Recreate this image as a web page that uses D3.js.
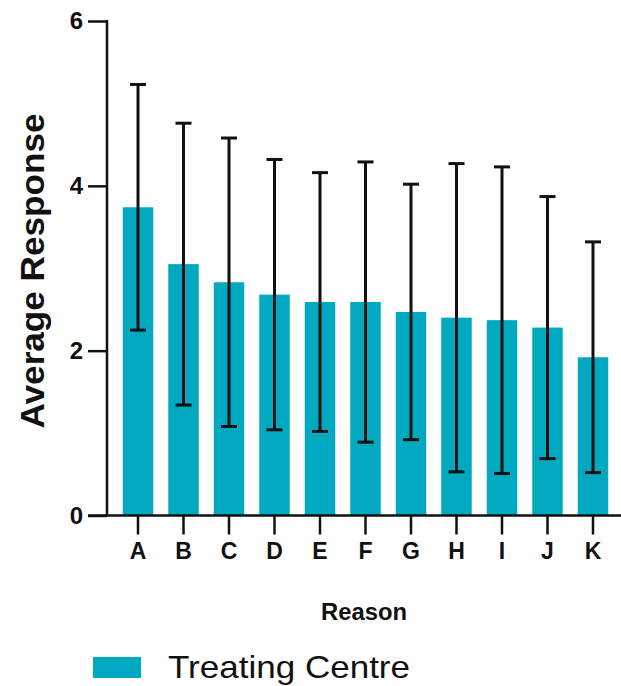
<!DOCTYPE html>
<html>
<head>
<meta charset="utf-8">
<script src="https://cdn.jsdelivr.net/npm/d3@7"></script>
<style>
  html, body { margin: 0; padding: 0; background: #fff; }
  svg { display: block; font-family: "Liberation Sans", Arial, sans-serif; }
</style>
</head>
<body>
<svg id="chart" width="621" height="686"></svg>
<script>
// ---- Data ----
const categories = ["A", "B", "C", "D", "E", "F", "G", "H", "I", "J", "K"];
const means      = [3.74, 3.05, 2.83, 2.68, 2.59, 2.59, 2.47, 2.40, 2.37, 2.28, 1.92];
const sds        = [1.49, 1.71, 1.75, 1.64, 1.57, 1.70, 1.55, 1.87, 1.86, 1.59, 1.40];
const yTicks     = [0, 2, 4, 6];
const seriesName = "Treating Centre";
const yTitle     = "Average Response";
const xTitle     = "Reason";

const barColor = "#00A9C0";
const ink = "#111";

const svg = d3.select("#chart");

const y = d3.scaleLinear().domain([0, 6]).range([515.5, 21]);
const x = d3.scaleBand().domain(categories)
  .range([115.25, 615.75]).paddingInner(0.33).paddingOuter(0.165);

const data = categories.map((c, i) => ({ c, m: means[i], sd: sds[i] }));

// Bars
svg.append("g").selectAll("rect").data(data).join("rect")
  .attr("x", d => x(d.c))
  .attr("y", d => y(d.m))
  .attr("width", x.bandwidth())
  .attr("height", d => y(0) - y(d.m))
  .attr("fill", barColor);

// Error bars
const eb = svg.append("g").attr("stroke", ink).attr("stroke-width", 3);
const cx = d => x(d.c) + x.bandwidth() / 2;
eb.selectAll("line.v").data(data).join("line").attr("class", "v")
  .attr("x1", cx).attr("x2", cx)
  .attr("y1", d => y(d.m + d.sd)).attr("y2", d => y(d.m - d.sd));
eb.selectAll("line.t").data(data).join("line").attr("class", "t")
  .attr("x1", d => cx(d) - 8).attr("x2", d => cx(d) + 8)
  .attr("y1", d => y(d.m + d.sd)).attr("y2", d => y(d.m + d.sd));
eb.selectAll("line.b").data(data).join("line").attr("class", "b")
  .attr("x1", d => cx(d) - 8).attr("x2", d => cx(d) + 8)
  .attr("y1", d => y(d.m - d.sd)).attr("y2", d => y(d.m - d.sd));

// Y axis
const yAxis = svg.append("g").attr("transform", "translate(107,0)")
  .call(d3.axisLeft(y).tickValues(yTicks).tickSize(19).tickSizeOuter(0).tickPadding(5)
        .tickFormat(d3.format("d")));
yAxis.select(".domain").remove();
yAxis.selectAll(".tick line").attr("stroke", ink).attr("stroke-width", 2.5);
yAxis.selectAll(".tick text").attr("fill", ink).attr("font-size", 24).attr("font-weight", "bold")
  .attr("font-family", "'Liberation Sans', Arial, sans-serif");
yAxis.append("line").attr("x1", 0).attr("x2", 0).attr("y1", y(6) - 1).attr("y2", y(0))
  .attr("stroke", ink).attr("stroke-width", 2.5);

// X axis
const xAxis = svg.append("g").attr("transform", `translate(0,${y(0)})`)
  .call(d3.axisBottom(x).tickSize(19).tickSizeOuter(0).tickPadding(8));
xAxis.select(".domain").remove();
xAxis.selectAll(".tick line").attr("stroke", ink).attr("stroke-width", 2.5);
xAxis.selectAll(".tick text").attr("fill", ink).attr("font-size", 23).attr("font-weight", "bold")
  .attr("font-family", "'Liberation Sans', Arial, sans-serif");
xAxis.append("line").attr("x1", 88).attr("x2", 621).attr("y1", 0).attr("y2", 0)
  .attr("stroke", ink).attr("stroke-width", 2.5);

// Axis titles
svg.append("text")
  .attr("transform", "translate(44,271) rotate(-90)")
  .attr("text-anchor", "middle")
  .attr("font-size", 33).attr("font-weight", "bold").attr("fill", ink)
  .attr("textLength", 315).attr("lengthAdjust", "spacingAndGlyphs")
  .text(yTitle);

svg.append("text")
  .attr("x", 364).attr("y", 620)
  .attr("text-anchor", "middle")
  .attr("font-size", 23).attr("font-weight", "bold").attr("fill", ink)
  .attr("textLength", 86).attr("lengthAdjust", "spacingAndGlyphs")
  .text(xTitle);

// Legend
const lg = svg.append("g");
lg.append("rect").attr("x", 93).attr("y", 657).attr("width", 48).attr("height", 21).attr("fill", barColor);
lg.append("text").attr("x", 168).attr("y", 678)
  .attr("font-size", 32).attr("fill", ink)
  .attr("textLength", 242).attr("lengthAdjust", "spacingAndGlyphs")
  .text(seriesName);
</script>
</body>
</html>
